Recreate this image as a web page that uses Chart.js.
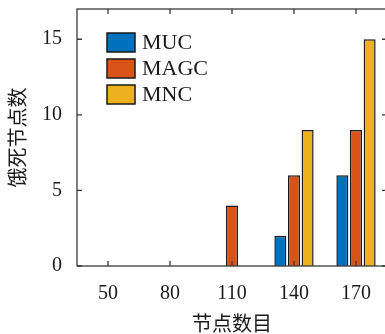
<!DOCTYPE html>
<html>
<head>
<meta charset="utf-8">
<script src="https://cdn.jsdelivr.net/npm/chart.js@4/dist/chart.umd.min.js"></script>
<style>
  html, body { margin: 0; padding: 0; background: #fff; overflow: hidden; }
  canvas { display: block; }
</style>
</head>
<body>
<canvas id="starveChart" width="390" height="334"></canvas>
<script>
const nodeCounts = ['50', '80', '110', '140', '170'];
const mucValues = [0, 0, 0, 2, 6];
const magcValues = [0, 0, 4, 6, 9];
const mncValues = [0, 0, 0, 9, 15];
const yTicks = [0, 5, 10, 15];

const serif = '"Liberation Serif", "Noto Sans CJK SC", serif';
const axisColor = '#3a3a3a';

// box round the plot + inward ticks, like the matlab figure
const boxTicks = {
    id: 'boxTicks',
    afterDatasetsDraw(chart) {
        const ctx = chart.ctx;
        const a = chart.chartArea;
        const x = chart.scales.x;
        const y = chart.scales.y;
        const len = 5;
        ctx.save();
        ctx.strokeStyle = axisColor;
        ctx.lineWidth = 1.3;
        ctx.strokeRect(a.left, a.top, a.right - a.left, a.bottom - a.top);
        ctx.beginPath();
        nodeCounts.forEach((c, i) => {
            const px = x.getPixelForValue(i);
            ctx.moveTo(px, a.bottom); ctx.lineTo(px, a.bottom - len);
            ctx.moveTo(px, a.top); ctx.lineTo(px, a.top + len);
        });
        yTicks.forEach(v => {
            const py = y.getPixelForValue(v);
            ctx.moveTo(a.left, py); ctx.lineTo(a.left + len, py);
            ctx.moveTo(a.right, py); ctx.lineTo(a.right - len, py);
        });
        ctx.stroke();
        ctx.restore();
    }
};

// legend drawn inside the plot, top left
const innerLegend = {
    id: 'innerLegend',
    afterDraw(chart) {
        const ctx = chart.ctx;
        const x0 = 107, y0 = 33, boxW = 28, boxH = 19, step = 26;
        ctx.save();
        ctx.font = '22px ' + serif;
        ctx.textBaseline = 'middle';
        chart.data.datasets.forEach((ds, i) => {
            const by = y0 + i * step;
            ctx.fillStyle = ds.backgroundColor;
            ctx.fillRect(x0, by, boxW, boxH);
            ctx.strokeStyle = '#1a1a1a';
            ctx.lineWidth = 1.5;
            ctx.strokeRect(x0, by, boxW, boxH);
            ctx.fillStyle = '#1a1a1a';
            ctx.fillText(ds.label, x0 + 35, by + boxH / 2 + 1);
        });
        ctx.restore();
    }
};

const ctx = document.getElementById('starveChart').getContext('2d');
new Chart(ctx, {
    type: 'bar',
    data: {
        labels: nodeCounts,
        datasets: [
            { label: 'MUC', data: mucValues, backgroundColor: '#0072BD' },
            { label: 'MAGC', data: magcValues, backgroundColor: '#D95319' },
            { label: 'MNC', data: mncValues, backgroundColor: '#EDB120' }
        ]
    },
    options: {
        responsive: false,
        animation: false,
        layout: { padding: { top: 9, right: 3, left: 0, bottom: 0 } },
        datasets: {
            bar: {
                categoryPercentage: 0.66,
                barPercentage: 0.88,
                borderColor: '#1a1a1a',
                borderWidth: 1.5
            }
        },
        plugins: {
            legend: { display: false },
            tooltip: { enabled: false }
        },
        scales: {
            x: {
                afterFit(scale) {
                    scale.height = 68;
                    scale.paddingLeft = 0;
                    scale.paddingRight = 0;
                },
                grid: { display: false, drawTicks: false },
                border: { display: false },
                ticks: {
                    color: '#1a1a1a',
                    padding: 16,
                    font: { family: serif, size: 20 }
                },
                title: {
                    display: true,
                    text: '节点数目',
                    color: '#1a1a1a',
                    padding: { top: 0, bottom: -2 },
                    font: { family: serif, size: 20, lineHeight: 1.0 }
                }
            },
            y: {
                min: 0,
                max: 17,
                afterFit(scale) {
                    scale.width = 77;
                    scale.paddingTop = 0;
                    scale.paddingBottom = 0;
                },
                afterBuildTicks(scale) { scale.ticks = yTicks.map(v => ({ value: v })); },
                grid: { display: false, drawTicks: false },
                border: { display: false },
                ticks: {
                    color: '#1a1a1a',
                    padding: 15,
                    font: { family: serif, size: 20 }
                },
                title: {
                    display: true,
                    text: '饿死节点数',
                    color: '#1a1a1a',
                    padding: { top: 8, bottom: 0 },
                    font: { family: serif, size: 20, lineHeight: 1.2 }
                }
            }
        }
    },
    plugins: [boxTicks, innerLegend]
});
</script>
</body>
</html>
